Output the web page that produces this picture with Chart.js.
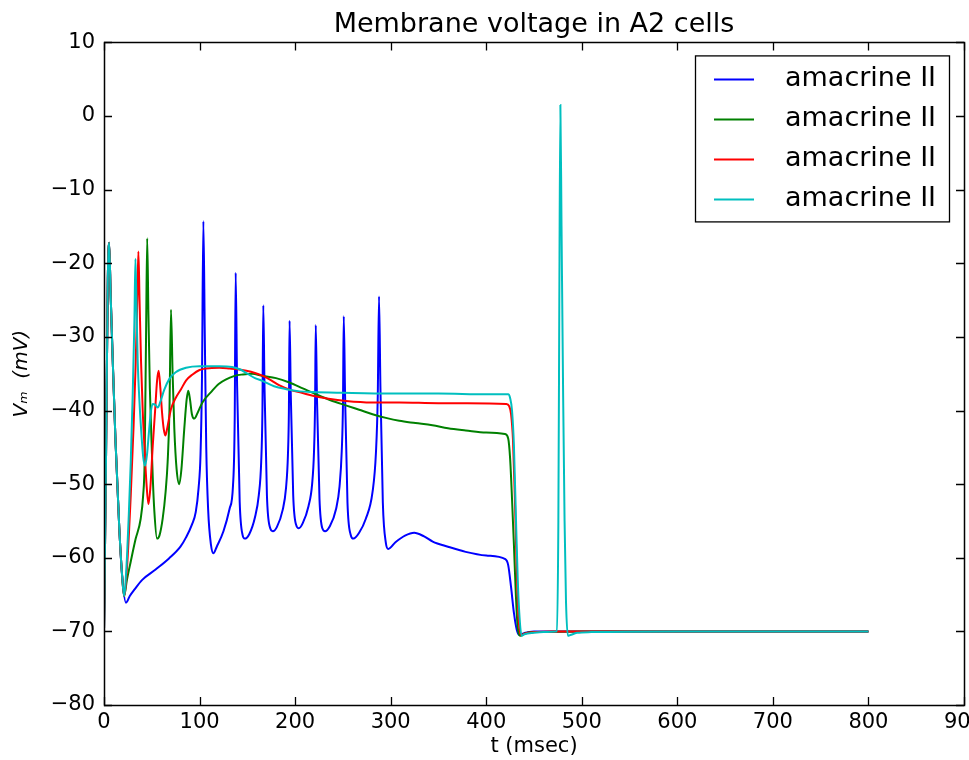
<!DOCTYPE html>
<html>
<head>
<meta charset="utf-8">
<script src="https://cdn.jsdelivr.net/npm/chart.js@4.4.1/dist/chart.umd.min.js"></script>
<style>
  html, body { margin: 0; padding: 0; background: #ffffff; }
  #wrap { width: 969px; height: 760px; }
</style>
</head>
<body>
<div id="wrap"><canvas id="c" width="969" height="760"></canvas></div>
<script>
// ---------------- data ----------------
const chartTitle = "Membrane voltage in A2 cells";
const xTitle = "t (msec)";
const yTitle = "Vₘ  (mV)";
const seriesLabels = ["amacrine II", "amacrine II", "amacrine II", "amacrine II"];
const seriesColors = ["#0000ff", "#008000", "#ff0000", "#00bfbf"];
const xTicks = [0, 100, 200, 300, 400, 500, 600, 700, 800, 900];
const yTicks = [-80, -70, -60, -50, -40, -30, -20, -10, 0, 10];

const blueT = [0, 2, 4, 5.4, 7, 9, 12, 16, 19, 23, 27, 32, 40, 54, 68, 80, 86, 92, 96, 99, 101, 102.5, 104, 105.5, 107, 109, 112, 114.5,
  118, 125, 131.5, 135, 136.8, 137.8, 139.3, 142, 145, 147.2,
  152, 158, 162, 164.5, 165.8, 166.7, 168, 170.5, 173.5, 176.7,
  181, 187, 190.5, 192.5, 193.5, 194.2, 195.5, 198, 201, 203.9,
  208, 214, 217.8, 219.8, 220.9, 221.6, 222.9, 225.5, 228.5, 231.3,
  236, 243, 246.5, 248.8, 250.1, 250.9, 252.3, 254.8, 258, 261,
  267, 274, 281, 284.6, 286.5, 287.8, 289.3, 291.8, 295, 297.5,
  305, 315, 324.6, 335, 344, 360, 378.5, 400, 420, 423, 426, 429, 432, 435, 440, 450, 500, 600, 700, 800];
const blueV = [-70, -48, -22, -17.2, -24.5, -32.6, -44, -56, -62.5, -66.1, -65.2, -64.3, -63, -61.6, -60.1, -58.5, -57.2, -55.5, -53.8, -50.5, -46, -36, -14.3, -30, -45, -53.5, -58.3, -59.4,
  -58.5, -56.4, -53.3, -50.2, -41, -21.3, -36.6, -52.4, -56.9, -57.4,
  -56.8, -54.5, -51.5, -47, -40, -25.7, -37, -51.5, -55.8, -56.4,
  -55.8, -53.5, -50.5, -46, -40, -27.8, -38, -51.5, -55.5, -56.0,
  -55.3, -53, -50, -45.5, -39, -28.4, -38.5, -52, -56, -56.4,
  -55.8, -53.3, -50.3, -45.5, -39, -27.2, -38, -52.5, -56.8, -57.4,
  -56.6, -54.7, -51.1, -45.7, -38, -24.5, -37, -52.5, -58, -58.8,
  -57.9, -57.0, -56.6, -57.1, -57.8, -58.5, -59.2, -59.7, -60.2, -61, -64, -67.5, -69.8, -70.5, -70.2, -70.0, -70.0, -70.0, -70.0, -70.0];

const greenT = [0, 2, 4, 5.4, 7, 9, 12, 16, 19, 21, 24, 28, 33, 38.4, 41, 42.5, 44, 45.2, 46.5, 48, 49.3, 51, 52.7, 55.5,
  58, 61.4, 64.5, 66.6, 68.5, 70.1, 71.8, 73.6, 76, 78.8, 81, 84, 86.5, 88.2, 90, 92, 94.5, 98, 103, 112, 120,
  136.7, 145.4, 155, 166, 180, 194, 208, 222, 237, 253, 267, 281, 295, 309, 326, 343.7, 360, 378.6, 400, 419.6,
  423, 425, 427, 429, 431, 433, 436, 440, 450, 500, 600, 700, 800];
const greenV = [-70, -48, -22, -17.2, -24.5, -32.6, -44, -56, -62.5, -65.2, -63, -60.5, -57.5, -54.7, -51.5, -47, -30, -16.6, -27, -37, -42.5, -49, -53.7, -57.4,
  -57, -54.7, -51, -47, -40, -26.3, -35, -42.5, -48, -50, -48, -42.5, -38.5, -37.3, -38.5, -40.5, -41.1, -40.3, -38.9, -37.5, -36.4,
  -35.3, -35.1, -35.0, -35.3, -35.6, -36.2, -37.0, -37.8, -38.6, -39.3, -39.9, -40.5, -41.0, -41.4, -41.7, -42.0, -42.4, -42.7, -43.0, -43.2,
  -43.8, -46.5, -52, -58.3, -65, -69.5, -70.6, -70.3, -70.1, -70, -70, -70, -70];

const redT = [0, 2, 4, 5.4, 7, 9, 12, 16, 19, 21, 24, 28, 31, 33.2, 35, 36, 37.2, 38.8, 40.5, 42.3, 44.5, 46.5, 48.5, 51, 53.5, 55.5, 57.2,
  59, 60.7, 62.5, 64.2, 66, 70.1, 75, 80.6, 86, 92.7, 100, 106.7, 120.6, 131.5, 140, 149, 158, 166.3, 175, 183.7, 195, 207, 218.5,
  235, 253.3, 280, 309, 350, 380, 421, 424, 426, 428, 430, 432, 434, 436.5, 440, 450, 470, 500, 600, 700, 800];
const redV = [-70, -48, -22, -17.2, -24.5, -32.6, -44, -56, -62.5, -65.2, -61.5, -51.5, -42, -33.4, -24, -18.4, -25, -33.5, -40, -44.8, -50, -52.7, -50.5, -44.8, -40, -36, -34.6,
  -37, -40.2, -42.5, -43.4, -42.5, -39.8, -38.3, -37.1, -35.9, -35.1, -34.5, -34.3, -34.2, -34.3, -34.4, -34.6, -34.9, -35.3, -35.9, -36.6, -37.2, -37.6, -38.0,
  -38.4, -38.7, -38.9, -38.9, -39.0, -39.0, -39.1, -39.4, -40.5, -44, -52, -62, -68.5, -70.5, -70.3, -70.1, -70, -70, -70, -70, -70];

const cyanT = [0, 2, 4, 5.4, 7, 9, 12, 16, 19, 21, 24, 26, 28, 30, 31.8, 32.9, 34, 35.3, 37, 38.8, 41, 43, 45, 47, 49, 51, 53.5, 56.2,
  59, 63, 68.4, 75, 85.8, 100, 120.6, 134, 142, 150, 158, 166.3, 178, 190.7, 205, 218.5, 250, 300, 350, 400, 423,
  425, 427, 429, 431.4, 433, 434.5, 437, 440, 450, 460, 474, 475.5, 476.5, 477.6, 478.8, 480.5, 482, 483.5, 485.5, 488, 495, 510, 600, 700, 800];
const cyanV = [-70, -48, -22, -17.2, -24.5, -32.6, -44, -56, -62.5, -65.2, -60, -54, -47, -38, -28, -19.4, -26, -33.4, -38.5, -42.5, -46.3, -47.5, -46, -43, -40.2, -39.1, -39.2, -39.6,
  -38.8, -37.2, -35.7, -34.8, -34.2, -34.0, -34.0, -34.1, -34.4, -35.0, -35.6, -36.0, -36.7, -37.1, -37.4, -37.5, -37.6, -37.7, -37.7, -37.8, -37.8,
  -38.3, -40, -44.8, -56, -63, -67.3, -70.6, -70.4, -70.2, -70.1, -70.0, -55, -25, 1.5, -15, -38, -55, -66, -70.6, -70.5, -70.2, -70.1, -70, -70, -70];

// ---------------- chart ----------------
const seriesT = [blueT, greenT, redT, cyanT];
const seriesV = [blueV, greenV, redV, cyanV];

const datasets = seriesT.map((ts, i) => ({
  label: seriesLabels[i],
  data: ts.map((t, j) => ({ x: t, y: seriesV[i][j] })),
  borderColor: seriesColors[i],
  backgroundColor: seriesColors[i],
  borderWidth: 2,
  pointRadius: 0,
  fill: false,
  cubicInterpolationMode: 'monotone',
  order: seriesT.length - 1 - i
}));

const frameAndTicks = {
  id: 'frameAndTicks',
  afterDraw(chart) {
    const ctx = chart.ctx;
    const a = chart.chartArea;
    const xs = chart.scales.x, ys = chart.scales.y;
    const L = 8;
    ctx.save();
    ctx.strokeStyle = '#000000';
    ctx.lineWidth = 1.3;
    ctx.beginPath();
    xTicks.forEach(v => {
      const px = Math.round(xs.getPixelForValue(v)) + 0.5;
      ctx.moveTo(px, a.bottom); ctx.lineTo(px, a.bottom - L);
      ctx.moveTo(px, a.top); ctx.lineTo(px, a.top + L);
    });
    yTicks.forEach(v => {
      const py = Math.round(ys.getPixelForValue(v)) + 0.5;
      ctx.moveTo(a.left, py); ctx.lineTo(a.left + L, py);
      ctx.moveTo(a.right, py); ctx.lineTo(a.right - L, py);
    });
    ctx.stroke();
    ctx.lineWidth = 1.5;
    ctx.strokeRect(Math.round(a.left) + 0.5, Math.round(a.top) + 0.5,
                   Math.round(a.right - a.left), Math.round(a.bottom - a.top));

    // legend box (upper right, inside axes)
    const bx = a.right - 269, by = a.top + 13, bw = 254, bh = 166;
    ctx.fillStyle = '#ffffff';
    ctx.fillRect(bx, by, bw, bh);
    ctx.lineWidth = 1.3;
    ctx.strokeRect(bx + 0.5, by + 0.5, bw, bh);
    ctx.font = '27px "DejaVu Sans"';
    ctx.textBaseline = 'middle';
    ctx.textAlign = 'left';
    chart.data.datasets.forEach((ds, i) => {
      const cy = by + 24 + i * 40;
      ctx.strokeStyle = ds.borderColor;
      ctx.lineWidth = 2;
      ctx.beginPath();
      ctx.moveTo(bx + 19, cy); ctx.lineTo(bx + 59, cy);
      ctx.stroke();
      ctx.fillStyle = '#000000';
      ctx.fillText(ds.label, bx + 90, cy);
    });
    ctx.restore();
  }
};

const fmt = v => String(v).replace('-', '\u2212');

new Chart(document.getElementById('c'), {
  type: 'line',
  data: { datasets },
  plugins: [frameAndTicks],
  options: {
    responsive: false,
    animation: false,
    devicePixelRatio: 1,
    layout: { padding: { top: 0, right: 5, bottom: 0, left: 0 } },
    plugins: {
      legend: { display: false },
      tooltip: { enabled: false },
      title: {
        display: true,
        text: chartTitle,
        fullSize: false,
        color: '#000000',
        font: { family: 'DejaVu Sans', size: 27, weight: 'normal', lineHeight: 1.2 },
        padding: { top: 9, bottom: 1 }
      }
    },
    scales: {
      x: {
        type: 'linear',
        min: 0, max: 900,
        grid: { display: false, drawTicks: false },
        border: { display: false },
        afterFit(s) { s.height = 55; s.paddingLeft = 0; s.paddingRight = 0; },
        afterBuildTicks(s) { s.ticks = xTicks.map(v => ({ value: v })); },
        ticks: {
          color: '#000000',
          font: { family: 'DejaVu Sans', size: 21 },
          padding: 5,
          maxRotation: 0,
          autoSkip: false,
          callback: v => fmt(v)
        },
        title: {
          display: true,
          text: xTitle,
          color: '#000000',
          font: { family: 'DejaVu Sans', size: 21 },
          padding: { top: 0, bottom: 1 }
        }
      },
      y: {
        type: 'linear',
        min: -80, max: 10,
        grid: { display: false, drawTicks: false },
        border: { display: false },
        afterFit(s) { s.width = 104; s.paddingTop = 0; s.paddingBottom = 0; },
        afterBuildTicks(s) { s.ticks = yTicks.map(v => ({ value: v })); },
        ticks: {
          color: '#000000',
          font: { family: 'DejaVu Sans', size: 21 },
          padding: 9,
          autoSkip: false,
          callback: v => fmt(v)
        },
        title: {
          display: true,
          text: yTitle,
          color: '#000000',
          font: { family: 'DejaVu Sans', size: 20, style: 'italic' },
          padding: { top: 10, bottom: 0 }
        }
      }
    }
  }
});
</script>
</body>
</html>
